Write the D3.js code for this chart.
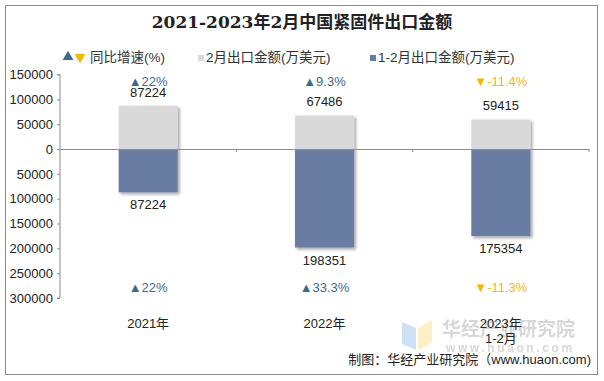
<!DOCTYPE html>
<html>
<head>
<meta charset="utf-8">
<script src="https://cdn.jsdelivr.net/npm/d3@7"></script>
<style>
  body { margin: 0; background: #fff; }
  text { font-family: "Liberation Sans", Arial, "Noto Sans CJK SC", sans-serif; }
</style>
</head>
<body>
<div id="container"></div>
<script>
const categories = ["2021年", "2022年", "2023年\n1-2月"];
const febValues = [87224, 67486, 59415];
const janFebValues = [87224, 198351, 175354];
const febGrowth = [22, 9.3, -11.4];
const janFebGrowth = [22, 33.3, -11.3];
const yTicks = [150000, 100000, 50000, 0, -50000, -100000, -150000, -200000, -250000, -300000];

const width = 604, height = 381;
const upColor = "#3d6a8c", downColor = "#f5b800";
const grayColor = "#d9d9d9", blueColor = "#697ca1";

const svg = d3.select("#container").append("svg")
    .attr("width", width)
    .attr("height", height);

const defs = svg.append("defs");
const shadow = defs.append("filter").attr("id", "shadow")
    .attr("x", "-20%").attr("y", "-20%").attr("width", "150%").attr("height", "150%");
shadow.append("feDropShadow")
    .attr("dx", 2).attr("dy", 2).attr("stdDeviation", 1.5)
    .attr("flood-color", "#000").attr("flood-opacity", 0.35);

// outer frame
svg.append("rect")
    .attr("x", 5.5).attr("y", 5.5)
    .attr("width", 592).attr("height", 369)
    .attr("fill", "#fff").attr("stroke", "#8c8c8c");

// watermark
const wm = svg.append("g").attr("opacity", 0.5);
wm.append("path").attr("d", "M402,322 L416,328 L416,350 L402,344 Z").attr("fill", "#9cc3ee");
wm.append("path").attr("d", "M418,328 L432,320 L432,343 L418,350 Z").attr("fill", "#f9e08c");
wm.append("text").attr("x", 442).attr("y", 336)
    .style("font-size", "19px").style("font-weight", "bold")
    .style("font-family", "'Noto Sans CJK SC', sans-serif")
    .attr("fill", "#b0b0b0").text("华经产业研究院");
wm.append("text").attr("x", 446).attr("y", 352)
    .style("font-size", "12px").style("font-weight", "bold")
    .style("letter-spacing", "2.6px")
    .attr("fill", "#b0b0b0").text("www.huaon.com");

// title
svg.append("text")
    .attr("x", 302).attr("y", 28)
    .attr("text-anchor", "middle")
    .style("font-size", "17px").style("font-weight", "bold")
    .style("font-family", "'DejaVu Serif', 'Noto Sans CJK SC', serif")
    .attr("fill", "#222")
    .text("2021-2023年2月中国紧固件出口金额");

// legend
const legend = svg.append("g").style("font-size", "13.5px").attr("fill", "#333");
legend.append("path").attr("d", d3.symbol(d3.symbolTriangle, 50)()).attr("transform", "translate(68,57)").attr("fill", upColor);
legend.append("path").attr("d", d3.symbol(d3.symbolTriangle, 50)()).attr("transform", "translate(80,57) rotate(180)").attr("fill", downColor);
legend.append("text").attr("x", 90).attr("y", 62).text("同比增速(%)");
legend.append("rect").attr("x", 198).attr("y", 55).attr("width", 6).attr("height", 6).attr("fill", grayColor);
legend.append("text").attr("x", 206).attr("y", 62).text("2月出口金额(万美元)");
legend.append("rect").attr("x", 370).attr("y", 55).attr("width", 6).attr("height", 6).attr("fill", blueColor);
legend.append("text").attr("x", 378).attr("y", 62).text("1-2月出口金额(万美元)");

// scales
const x = d3.scaleBand().domain(categories).range([60, 589]).paddingInner(0).paddingOuter(0);
const y = d3.scaleLinear().domain([150000, -300000]).range([74.5, 298]);
const barW = x.bandwidth() * 0.335;

// y axis
const yAxis = svg.append("g")
    .attr("transform", "translate(60,0)")
    .call(d3.axisLeft(y).tickValues(yTicks).tickSize(3).tickFormat(d => Math.abs(d)));
yAxis.select(".domain").attr("stroke", "#8c8c8c").attr("d", `M-3,${y(150000)}H0V${y(-300000)}H-3`);
yAxis.selectAll(".tick line").attr("stroke", "#8c8c8c");
yAxis.selectAll(".tick text").attr("x", -7).attr("fill", "#222")
    .style("font-size", "13px").style("font-family", "'Liberation Sans', Arial, sans-serif");

// bars
const bars = svg.append("g");
bars.selectAll(".feb").data(febValues).join("rect")
    .attr("x", (d, i) => x(categories[i]) + x.bandwidth() / 2 - barW / 2)
    .attr("y", d => y(d))
    .attr("width", barW)
    .attr("height", d => y(0) - y(d))
    .attr("fill", grayColor)
    .attr("filter", "url(#shadow)");
bars.selectAll(".jf").data(janFebValues).join("rect")
    .attr("x", (d, i) => x(categories[i]) + x.bandwidth() / 2 - barW / 2)
    .attr("y", y(0))
    .attr("width", barW)
    .attr("height", d => y(-d) - y(0))
    .attr("fill", blueColor)
    .attr("filter", "url(#shadow)");

// zero line with category ticks
const xAxis = svg.append("g").attr("transform", `translate(0,${y(0)})`)
    .call(d3.axisBottom(x).tickValues([]).tickSizeOuter(0));
xAxis.select(".domain").attr("stroke", "#8c8c8c");
xAxis.selectAll(".bound").data(categories).join("line")
    .attr("x1", d => x(d) + x.bandwidth()).attr("x2", d => x(d) + x.bandwidth())
    .attr("y1", 0).attr("y2", 3)
    .attr("stroke", "#8c8c8c");

// value labels
const labels = svg.append("g").style("font-size", "13px").attr("fill", "#222").attr("text-anchor", "middle");
labels.selectAll(".v1").data(febValues).join("text")
    .attr("x", (d, i) => x(categories[i]) + x.bandwidth() / 2)
    .attr("y", d => y(d) - 9)
    .text(d => d);
labels.selectAll(".v2").data(janFebValues).join("text")
    .attr("x", (d, i) => x(categories[i]) + x.bandwidth() / 2)
    .attr("y", d => y(-d) + 17)
    .text(d => d);

const growthText = g => (g >= 0 ? "▲" : "▼") + g + "%";
labels.selectAll(".g1").data(febGrowth).join("text")
    .attr("x", (d, i) => x(categories[i]) + x.bandwidth() / 2)
    .attr("y", 86)
    .attr("fill", d => d >= 0 ? upColor : downColor)
    .text(growthText);
labels.selectAll(".g2").data(janFebGrowth).join("text")
    .attr("x", (d, i) => x(categories[i]) + x.bandwidth() / 2)
    .attr("y", 292)
    .attr("fill", d => d >= 0 ? upColor : downColor)
    .text(growthText);

// category labels
const cat = svg.append("g").style("font-size", "13px").attr("fill", "#222").attr("text-anchor", "middle");
categories.forEach((c, i) => {
    c.split("\n").forEach((line, j) => {
        cat.append("text")
            .attr("x", x(c) + x.bandwidth() / 2)
            .attr("y", 328 + j * 15)
            .text(line);
    });
});

// source
svg.append("text")
    .attr("x", 591).attr("y", 364)
    .attr("text-anchor", "end")
    .style("font-size", "13px")
    .attr("fill", "#222")
    .text("制图：华经产业研究院（www.huaon.com)");
</script>
</body>
</html>
